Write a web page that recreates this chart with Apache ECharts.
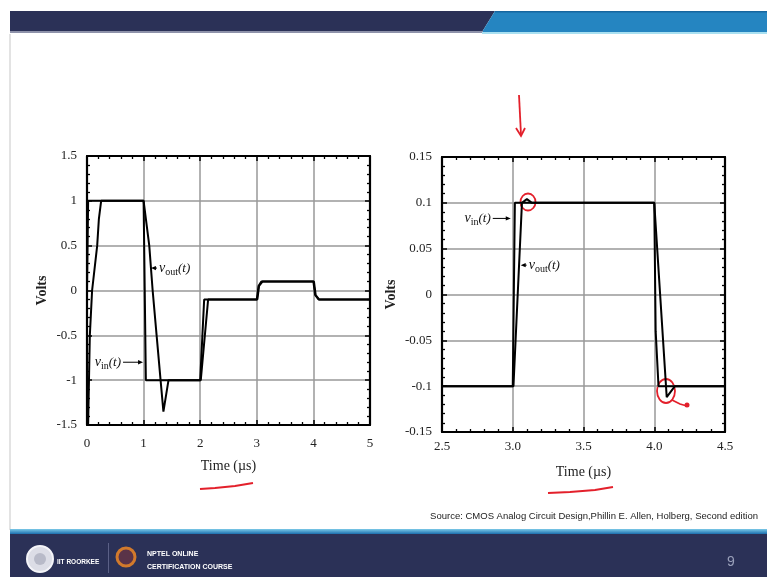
<!DOCTYPE html>
<html>
<head>
<meta charset="utf-8">
<script src="https://cdn.jsdelivr.net/npm/echarts@6/dist/echarts.min.js"></script>
<style>
html,body{margin:0;padding:0;background:#fff;}
#c{width:767px;height:577px;}
</style>
</head>
<body>
<div id="c"></div>
<script>
// ---- data ----
var leftXTicks = [0, 1, 2, 3, 4, 5];
var leftYTicks = [-1.5, -1, -0.5, 0, 0.5, 1, 1.5];
var rightXTicks = [2.5, 3.0, 3.5, 4.0, 4.5];
var rightYTicks = [-0.15, -0.1, -0.05, 0, 0.05, 0.1, 0.15];

var leftVin = [[0,0],[0.02,1],[1.0,1],[1.02,0],[1.04,-1],[2.0,-1],[2.07,-0.1],[3.0,-0.1],[3.03,0.05],[3.08,0.1],[4.0,0.1],[4.03,-0.05],[4.09,-0.1],[5,-0.1]];
var leftVout = [[0.02,-1.5],[0.035,-1],[0.05,-0.5],[0.09,0],[0.18,0.5],[0.21,0.8],[0.25,1],[1.0,1],[1.1,0.5],[1.16,0],[1.23,-0.5],[1.3,-1],[1.35,-1.35],[1.44,-1],[2.01,-1],[2.14,-0.1],[3.01,-0.1],[3.04,0.05],[3.1,0.1],[4.01,0.1],[4.04,-0.05],[4.1,-0.1],[5,-0.1]];
var rightVin = [[2.5,-0.1],[3.0,-0.1],[3.015,0.1],[4.0,0.1],[4.01,-0.04],[4.03,-0.1],[4.5,-0.1]];
var rightVout = [[2.5,-0.1],[3.005,-0.1],[3.035,0],[3.065,0.1],[3.1,0.104],[3.135,0.1],[4.0,0.1],[4.088,-0.112],[4.146,-0.1],[4.5,-0.1]];

// annotation arrows: [grid, sub, tipX, tipY, side, arrowLen]
var annos = [
  [0, 'out', 1.13, 0.25, 'right', 6],
  [0, 'in', 0.99, -0.80, 'left', 20],
  [1, 'in', 2.986, 0.083, 'left', 18],
  [1, 'out', 3.056, 0.032, 'right', 6]
];

var chart = echarts.init(document.getElementById('c'));
var SERIF = '"Liberation Serif", "DejaVu Serif", serif';
var gridCol = '#999';

function fmtNum(v){ return String(parseFloat(v.toFixed(3))); }

function mkX(gi, ticks, pos, showLbl, fmt, name, nameGap, lblMargin){
  var a = {
    type:'value', gridIndex:gi, position:pos,
    min:ticks[0], max:ticks[ticks.length-1], interval:ticks[1]-ticks[0],
    axisLine:{show:true, onZero:false, lineStyle:{color:'#000', width:2.2}},
    axisTick:{show:true, inside:true, length:5, lineStyle:{color:'#000', width:1.5}},
    minorTick:{show:true, splitNumber:5, length:3, lineStyle:{color:'#000', width:1.3}},
    splitLine:{show:showLbl, lineStyle:{color:gridCol, width:1.5}},
    axisLabel:{show:showLbl, fontFamily:SERIF, fontSize:13, color:'#222', margin:lblMargin, formatter:fmt}
  };
  if (name){
    a.name = name; a.nameLocation='middle'; a.nameGap=nameGap;
    a.nameTextStyle = {fontFamily:SERIF, fontSize:14, color:'#222'};
  }
  return a;
}
function mkY(gi, ticks, pos, showLbl, fmt, name, nameGap){
  var a = {
    type:'value', gridIndex:gi, position:pos,
    min:ticks[0], max:ticks[ticks.length-1], interval:parseFloat((ticks[1]-ticks[0]).toFixed(3)),
    axisLine:{show:true, onZero:false, lineStyle:{color:'#000', width:2.2}},
    axisTick:{show:true, inside:true, length:5, lineStyle:{color:'#000', width:1.5}},
    minorTick:{show:true, splitNumber:5, length:3, lineStyle:{color:'#000', width:1.3}},
    splitLine:{show:showLbl, lineStyle:{color:gridCol, width:1.5}},
    axisLabel:{show:showLbl, fontFamily:SERIF, fontSize:13, color:'#222', margin:10, formatter:fmt}
  };
  if (name){
    a.name = name; a.nameLocation='middle'; a.nameGap=nameGap; a.nameRotate=90;
    a.nameTextStyle = {fontFamily:SERIF, fontSize:14, color:'#222', fontWeight:'bold'};
  }
  return a;
}

function lineSeries(xi, yi, data){
  return {type:'line', xAxisIndex:xi, yAxisIndex:yi, data:data, showSymbol:false, symbol:'none',
    lineStyle:{color:'#000', width:2}, animation:false, silent:true};
}

var red = '#e3202b';
var bg = [
  // header
  {type:'polygon', shape:{points:[[10,11],[495,11],[482,32],[10,32]]}, style:{fill:'#2b3157'}},
  {type:'polygon', shape:{points:[[495,11],[767,11],[767,32],[482,32]]}, style:{fill:'#2585c1'}},
  {type:'rect', shape:{x:10,y:31,width:473,height:2}, style:{fill:'#8e92aa'}},
  {type:'rect', shape:{x:482,y:32,width:285,height:2}, style:{fill:'#a9e0f1'}},
  {type:'rect', shape:{x:495,y:11,width:272,height:1.5}, style:{fill:'#16669f'}},
  // slide left edge
  {type:'rect', shape:{x:9.5,y:34,width:1,height:496}, style:{fill:'#c8c8c8'}},
  // footer
  {type:'rect', shape:{x:10,y:529,width:757,height:5}, style:{fill:new echarts.graphic.LinearGradient(0,0,0,1,[{offset:0,color:'#7cc9e8'},{offset:1,color:'#1c6fae'}])}},
  {type:'rect', shape:{x:10,y:534,width:757,height:43}, style:{fill:'#2b3157'}},
  {type:'circle', shape:{cx:40,cy:559,r:13}, style:{fill:'#dcdde6', stroke:'#f4f4f8', lineWidth:2}},
  {type:'circle', shape:{cx:40,cy:559,r:6}, style:{fill:'#b8bac8'}},
  {type:'text', x:57, y:562, style:{text:'IIT ROORKEE', fill:'#fff', font:'bold 6.5px "Liberation Sans", sans-serif', verticalAlign:'middle'}},
  {type:'rect', shape:{x:108,y:543,width:1,height:30}, style:{fill:'#5b6086'}},
  {type:'circle', shape:{cx:126,cy:557,r:9}, style:{fill:'#5a3348', stroke:'#d27a2c', lineWidth:3}},
  {type:'text', x:147, y:554, style:{text:'NPTEL ONLINE', fill:'#fff', font:'bold 7px "Liberation Sans", sans-serif', verticalAlign:'middle'}},
  {type:'text', x:147, y:567, style:{text:'CERTIFICATION COURSE', fill:'#fff', font:'bold 7px "Liberation Sans", sans-serif', verticalAlign:'middle'}},
  {type:'text', x:731, y:562, style:{text:'9', fill:'#9aa0ba', font:'14px "Liberation Sans", sans-serif', align:'center', verticalAlign:'middle'}},
  {type:'text', x:758, y:516, style:{text:'Source: CMOS Analog Circuit Design,Phillin E. Allen, Holberg, Second edition', fill:'#222', font:'9.5px "Liberation Sans Narrow", "Liberation Sans", sans-serif', align:'right', verticalAlign:'middle'}},
  // red hand annotations
  {type:'polyline', shape:{points:[[519,95],[520,115],[521,135]]}, style:{stroke:red, lineWidth:1.8, fill:null}},
  {type:'polyline', shape:{points:[[516,128],[521,136],[525,128]]}, style:{stroke:red, lineWidth:1.8, fill:null}},
  {type:'polyline', shape:{points:[[200,489],[215,488],[235,486],[253,483]]}, smooth:0.5, style:{stroke:red, lineWidth:2.2, fill:null}},
  {type:'polyline', shape:{points:[[548,493],[570,492],[595,490],[613,487]]}, smooth:0.5, style:{stroke:red, lineWidth:2.2, fill:null}},
  {type:'ellipse', shape:{cx:528,cy:202,rx:7.5,ry:8.5}, style:{stroke:red, lineWidth:1.8, fill:null}},
  {type:'ellipse', shape:{cx:666,cy:391,rx:9,ry:12}, style:{stroke:red, lineWidth:1.8, fill:null}},
  {type:'polyline', shape:{points:[[672,400],[680,404],[687,406]]}, style:{stroke:red, lineWidth:1.8, fill:null}},
  {type:'circle', shape:{cx:687,cy:405,r:2.5}, style:{fill:red}}
];

chart.setOption({
  animation:false,
  backgroundColor:'#fff',
  grid:[
    {left:87, top:156, width:283, height:269},
    {left:442, top:157, width:283, height:275}
  ],
  xAxis:[
    mkX(0, leftXTicks, 'bottom', true, function(v){return fmtNum(v);}, 'Time (\u00b5s)', 34, 12),
    mkX(0, leftXTicks, 'top', false, null),
    mkX(1, rightXTicks, 'bottom', true, function(v){return v.toFixed(1);}, 'Time (\u00b5s)', 33, 8),
    mkX(1, rightXTicks, 'top', false, null)
  ],
  yAxis:[
    mkY(0, leftYTicks, 'left', true, function(v){return fmtNum(v);}, 'Volts', 38),
    mkY(0, leftYTicks, 'right', false, null),
    mkY(1, rightYTicks, 'left', true, function(v){return fmtNum(v);}, 'Volts', 44),
    mkY(1, rightYTicks, 'right', false, null)
  ],
  series:[
    lineSeries(0,0,leftVin),
    lineSeries(0,0,leftVout),
    lineSeries(2,2,rightVin),
    lineSeries(2,2,rightVout)
  ],
  graphic:bg
});

// annotation labels placed through the axes' scales
var annoG = [];
annos.forEach(function(a, i){
  var p = chart.convertToPixel({gridIndex:a[0]}, [a[2], a[3]]);
  var tx = p[0], ty = p[1];
  var dir = a[4] === 'right' ? 1 : -1;
  var len = a[5];
  var sx = tx + dir*len;
  annoG.push({type:'line', shape:{x1:sx, y1:ty, x2:tx+dir*3, y2:ty}, style:{stroke:'#000', lineWidth:1}});
  annoG.push({type:'polygon', shape:{points:[[tx,ty],[tx+dir*5,ty-2.2],[tx+dir*5,ty+2.2]]}, style:{fill:'#000'}});
  annoG.push({type:'text', x:sx + dir*2, y:ty,
    style:{
      text:'{v|v}{s|' + a[1] + '}{p|(t)}',
      align: dir > 0 ? 'left' : 'right', verticalAlign:'middle',
      rich:{
        v:{fontFamily:SERIF, fontStyle:'italic', fontSize:14, fill:'#111', lineHeight:18},
        s:{fontFamily:SERIF, fontSize:10, fill:'#111', verticalAlign:'bottom', lineHeight:14},
        p:{fontFamily:SERIF, fontStyle:'italic', fontSize:13, fill:'#111', lineHeight:18}
      }
    }
  });
});
chart.setOption({graphic: bg.concat(annoG)});
</script>
</body>
</html>
